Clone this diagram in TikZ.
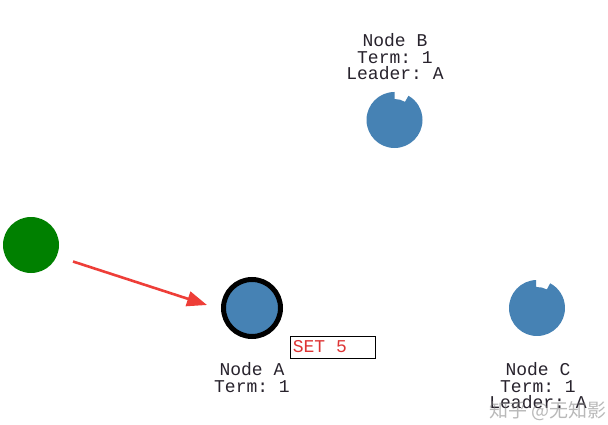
\documentclass[tikz,border=0pt]{standalone}
\usepackage{fontspec}
\setmonofont{Liberation Mono}
\newfontfamily\cjk{Noto Sans CJK SC}
\usetikzlibrary{arrows.meta}
\definecolor{steel}{HTML}{4682B4}
\definecolor{leafgreen}{HTML}{008000}
\definecolor{arrowred}{RGB}{238,62,56}
\definecolor{labelink}{RGB}{40,35,45}
\definecolor{setred}{RGB}{222,52,52}
\tikzset{
  lbl/.style={font=\ttfamily\fontsize{18}{16.5}\selectfont, text=labelink, align=center, inner sep=0pt, anchor=north},
  stateball/.style={fill=steel},
  pointer/.style={draw=arrowred, line width=2.6pt, -{Triangle[length=20pt,width=15pt]}},
  cmdbox/.style={draw=black, line width=0.8pt, minimum width=85pt, minimum height=22pt, inner sep=0pt},
  cmdtext/.style={font=\ttfamily\fontsize{18}{16}\selectfont, text=setred, inner sep=0pt, anchor=west},
}
\begin{document}
\begin{tikzpicture}[x=1pt,y=1pt]
\useasboundingbox[fill=white] (0,0) rectangle (608,424);
% node centres
\coordinate (cB) at (394.5,304);
\coordinate (cC) at (537,116);
\coordinate (cA) at (252,116);
% Node B (notched disc)
\fill[stateball] (cB) ++(90:28) arc[start angle=90,end angle=420,radius=28] -- ++(60:-7) arc[start angle=60,end angle=90,radius=21] -- cycle;
\node[lbl] (lB) at (395,390.5) {Node B\\Term: 1\\Leader: A};
% Node C (notched disc)
\fill[stateball] (cC) ++(92:28) arc[start angle=92,end angle=422,radius=28] -- ++(62:-7) arc[start angle=62,end angle=92,radius=21] -- cycle;
\node[lbl] (lC) at (538,61.5) {Node C\\Term: 1\\Leader: A};
% Node A (leader, ringed)
\node[circle, fill=steel, draw=black, line width=5pt, minimum size=57pt, inner sep=0pt] (nA) at (cA) {};
\node[lbl] (lA) at (252,61.5) {Node A\\Term: 1};
% client
\node[circle, fill=leafgreen, minimum size=56pt, inner sep=0pt] (client) at (31,179) {};
% request arrow
\coordinate (s) at (73,162.5);
\coordinate (t) at (207,119);
\draw[pointer] (s) -- (t);
% command box
\node[cmdbox] (box) at (332.5,77) {};
\node[cmdtext] (cmd) at ([xshift=3pt]box.west) {SET 5};
% watermark
\node[font=\cjk\fontsize{19}{19}\selectfont, text=gray, opacity=0.55, anchor=west, inner sep=0pt] (wm) at (489,13) {知乎 @无知影};
\end{tikzpicture}
\end{document}
